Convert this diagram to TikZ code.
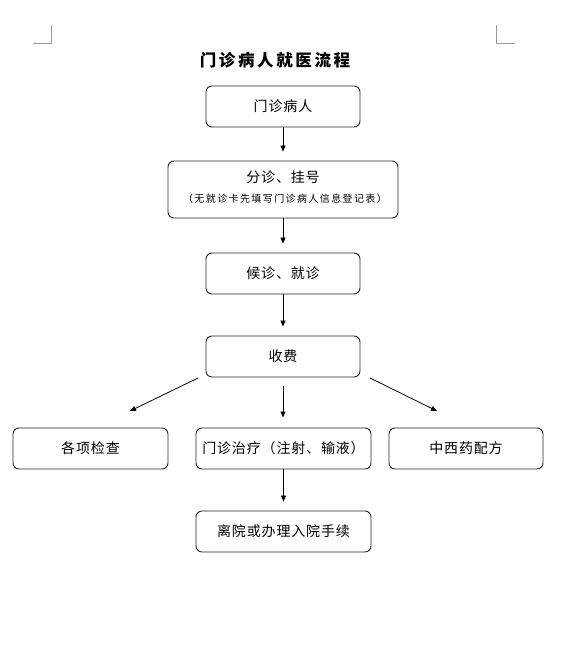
\documentclass[tikz,border=0pt]{standalone}
\usepackage{fontspec}
\setmainfont{Noto Sans CJK SC}
\usetikzlibrary{arrows.meta}
\begin{document}
\begin{tikzpicture}[x=1pt,y=-1pt,
  box/.style={draw=black!85,line width=0.9pt,rounded corners=6pt,inner sep=0pt},
  arr/.style={draw=black,line width=0.8pt,-{Triangle[length=6pt,width=5pt]}},
  cornermark/.style={draw=black!40,line width=1pt},
  body/.style={font=\fontsize{14}{16}\selectfont\addfontfeature{LetterSpace=6}}]
\useasboundingbox (0,0) rectangle (580,656);
\fill[white] (0,0) rectangle (580,656);
% corner marks
\draw[cornermark] (51,25) -- (51,43) -- (33,43);
\draw[cornermark] (496,25) -- (496,43) -- (515,43);
% title
\node[font=\fontsize{16.5}{18}\selectfont\bfseries\addfontfeature{LetterSpace=16}] (title) at (275,60) {门诊病人就医流程};
% nodes
\node[box,body,minimum width=154pt,minimum height=41pt] (p) at (283,106.5) {门诊病人};
\node[box,minimum width=230pt,minimum height=57pt] (reg) at (283,189.5) {};
\node[body] (regt) at (283,177) {分诊、挂号};
\node[font=\fontsize{10}{12}\selectfont\addfontfeature{LetterSpace=14}] (regs) at (285,198.5) {（无就诊卡先填写门诊病人信息登记表）};
\node[box,body,minimum width=154pt,minimum height=41pt] (wait) at (283,273.5) {候诊、就诊};
\node[box,body,minimum width=154pt,minimum height=41pt] (fee) at (283,356.5) {收费};
\node[box,body,minimum width=155pt,minimum height=41pt] (exam) at (90.5,448.5) {各项检查};
\node[box,body,minimum width=175pt,minimum height=41pt] (treat) at (283.5,448.5) {门诊治疗（注射、输液）};
\node[box,body,minimum width=154pt,minimum height=41pt] (med) at (466,448.5) {中西药配方};
\node[box,body,minimum width=175pt,minimum height=41pt] (leave) at (283.5,531.5) {离院或办理入院手续};
% connector ends
\coordinate (fl) at (198,378);
\coordinate (fr) at (370,378);
\coordinate (el) at (130,411);
\coordinate (mr) at (437,411);
% arrows
\draw[arr,shorten >=9pt] (p.south) -- (reg.north);
\draw[arr,shorten >=9pt] (reg.south) -- (wait.north);
\draw[arr,shorten >=9pt] (wait.south) -- (fee.north);
\draw[arr,shorten <=9pt,shorten >=10pt] (fee.south) -- (fee.south |- exam.north);
\draw[arr] (fl) -- (el);
\draw[arr] (fr) -- (mr);
\draw[arr,shorten >=9pt] (treat.south) -- (leave.north);
\end{tikzpicture}
\end{document}
